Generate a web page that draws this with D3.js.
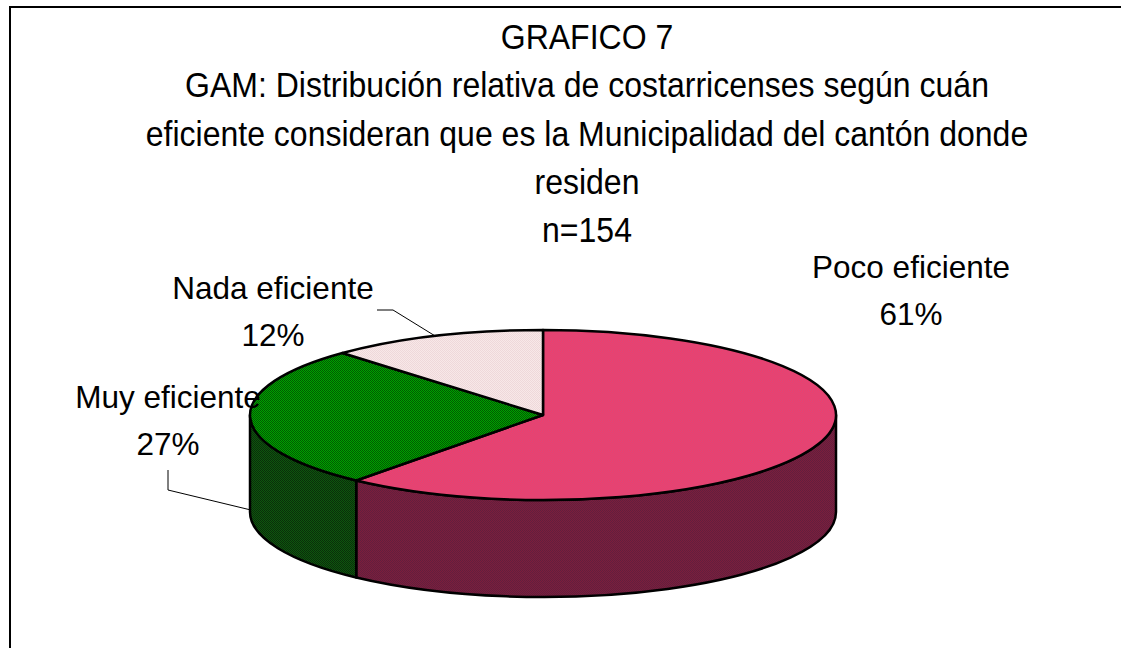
<!DOCTYPE html>
<html>
<head>
<meta charset="utf-8">
<script src="https://cdn.jsdelivr.net/npm/d3@7"></script>
<style>
  html, body { margin: 0; padding: 0; background: #fff; }
  text { font-family: "Liberation Sans", Arial, sans-serif; fill: #000; }
</style>
</head>
<body>
<div id="chart"></div>
<script>
// data
const categories = ["Poco eficiente", "Muy eficiente", "Nada eficiente"];
const percents = [61, 27, 12];
const titleLines = [
  "GRAFICO 7",
  "GAM: Distribución relativa de costarricenses según cuán",
  "eficiente consideran que es la Municipalidad del cantón donde",
  "residen",
  "n=154"
];

const w = 1121;
const h = 648;

const cx = 543, cy = 415, rx = 293, ry = 85, depth = 97;

// fill colours: [light, dark] for the dither look
const topColors = {
  "Poco eficiente": ["#f23c6a", "#d84a7a"],
  "Muy eficiente": ["#00a000", "#005c00"],
  "Nada eficiente": ["#f8e8e8", "#eed8da"]
};
const sideColors = {
  "Poco eficiente": ["#7c1e3c", "#621f3e"],
  "Muy eficiente": ["#0e560e", "#0a2e0a"],
  "Nada eficiente": ["#d8c0c0", "#c8b0b0"]
};

// label layout
const labelPos = {
  "Poco eficiente": { x: 911, y: 278 },
  "Muy eficiente": { x: 168, y: 408 },
  "Nada eficiente": { x: 273, y: 299 }
};

const svg = d3.select("#chart")
  .append("svg")
  .attr("width", w)
  .attr("height", h);

const defs = svg.append("defs");
const makePattern = (id, c) => {
  const p = defs.append("pattern")
    .attr("id", id)
    .attr("patternUnits", "userSpaceOnUse")
    .attr("width", 2)
    .attr("height", 2);
  p.append("rect").attr("width", 2).attr("height", 2).attr("fill", c[0]);
  p.append("rect").attr("width", 1).attr("height", 1).attr("fill", c[1]);
  p.append("rect").attr("x", 1).attr("y", 1).attr("width", 1).attr("height", 1).attr("fill", c[1]);
};
categories.forEach((c, i) => {
  makePattern("top" + i, topColors[c]);
  makePattern("side" + i, sideColors[c]);
});

// frame
svg.append("path")
  .attr("d", `M10,${h + 5} L10,7 L${w + 5},7`)
  .attr("fill", "none")
  .attr("stroke", "#000")
  .attr("stroke-width", 2);

// tall, slightly narrow text like the original: measure at base size, draw bigger squeezed to that width
const squeeze = (sel, base, big) => {
  sel.attr("font-size", base);
  sel.each(function() {
    const len = this.getComputedTextLength();
    d3.select(this)
      .attr("font-size", big)
      .attr("textLength", len)
      .attr("lengthAdjust", "spacingAndGlyphs");
  });
};

// title
const title = svg.append("g")
  .selectAll("text")
  .data(titleLines)
  .join("text")
  .attr("x", 587)
  .attr("y", (d, i) => 49 + i * 48.3)
  .attr("text-anchor", "middle")
  .text(d => d);
squeeze(title, 32, 35);

// pie
const pie = d3.pie().sort(null).value(d => d)
const arcs = pie(percents);

const pt = (a, dy = 0) => [cx + rx * Math.sin(a), cy - ry * Math.cos(a) + dy];

const sidePath = (a0, a1) => {
  const p0 = pt(a0), p1 = pt(a1), q1 = pt(a1, depth), q0 = pt(a0, depth);
  return `M${p0} A${rx},${ry} 0 0 1 ${p1} L${q1} A${rx},${ry} 0 0 0 ${q0} Z`;
};
const topPath = (a0, a1) => {
  const p0 = pt(a0), p1 = pt(a1);
  const large = a1 - a0 > Math.PI ? 1 : 0;
  return `M${cx},${cy} L${p0} A${rx},${ry} 0 ${large} 1 ${p1} Z`;
};

const g = svg.append("g");

// outer walls on the front half
arcs.forEach((d, i) => {
  const a0 = Math.max(d.startAngle, Math.PI / 2);
  const a1 = Math.min(d.endAngle, Math.PI * 1.5);
  if (a1 <= a0) return;
  g.append("path")
    .attr("d", sidePath(a0, a1))
    .attr("fill", `url(#side${i})`)
    .attr("stroke", "#000")
    .attr("stroke-width", 2.5)
    .attr("stroke-linejoin", "round");
});

g.selectAll("path.top")
  .data(arcs)
  .join("path")
  .attr("class", "top")
  .attr("d", d => topPath(d.startAngle, d.endAngle))
  .attr("fill", (d, i) => `url(#top${i})`)
  .attr("stroke", "#000")
  .attr("stroke-width", 2.5)
  .attr("stroke-linejoin", "round");

// leader lines
const nada = arcs[2], muy = arcs[1];
const nadaEnd = pt((nada.startAngle + nada.endAngle) / 2);
const muyEnd = pt((muy.startAngle + muy.endAngle) / 2, depth * 0.95);
svg.append("path")
  .attr("d", `M377,310 L393,310 L${nadaEnd}`)
  .attr("fill", "none")
  .attr("stroke", "#000")
  .attr("stroke-width", 1);
svg.append("path")
  .attr("d", `M168,470 L168,490 L${muyEnd}`)
  .attr("fill", "none")
  .attr("stroke", "#000")
  .attr("stroke-width", 1);

// labels
const labels = svg.append("g")
  .selectAll("text")
  .data(categories)
  .join("text")
  .attr("text-anchor", "middle");
labels.append("tspan")
  .attr("x", d => labelPos[d].x)
  .attr("y", d => labelPos[d].y)
  .text(d => d);
labels.append("tspan")
  .attr("x", d => labelPos[d].x)
  .attr("y", d => labelPos[d].y + 47)
  .text((d, i) => percents[i] + "%");
labels.attr("font-size", 31.5);
</script>
</body>
</html>
